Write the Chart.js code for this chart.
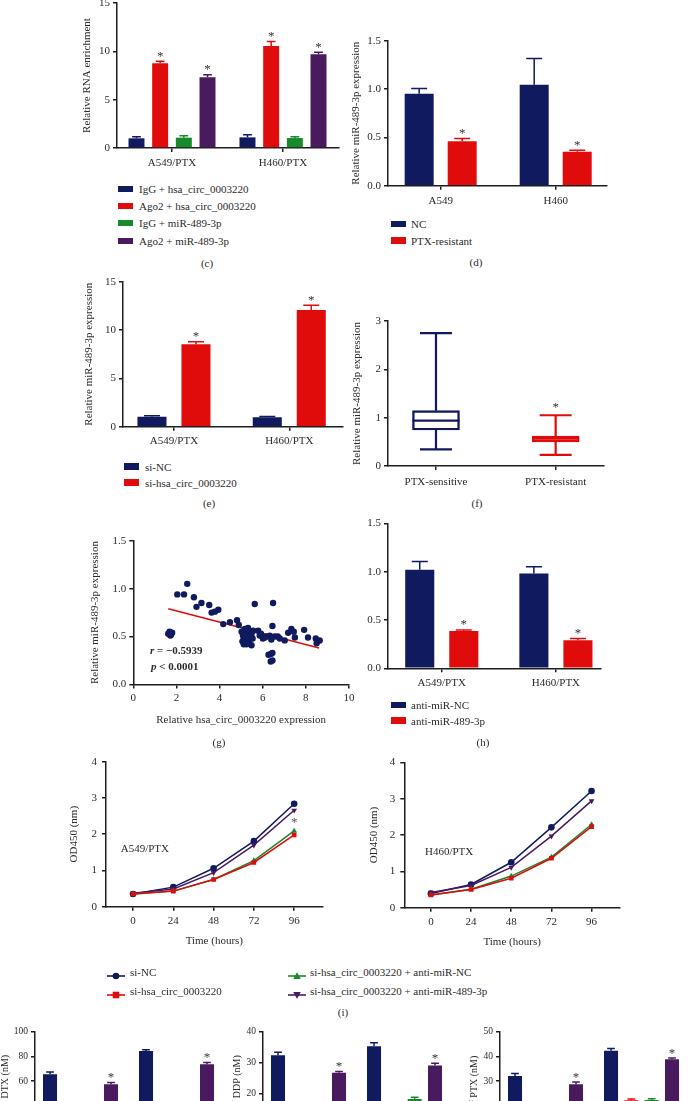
<!DOCTYPE html>
<html><head><meta charset="utf-8">
<script src="https://cdn.jsdelivr.net/npm/chart.js@4.4.1/dist/chart.umd.min.js"></script>
<style>
html,body{margin:0;padding:0;background:#fff;}
#page{position:relative;width:689px;height:1101px;overflow:hidden;background:#fff;font-family:"Liberation Serif","Times New Roman",serif;color:#2b2b2b;}
.cv{position:absolute;}
.txt{position:absolute;font-size:11px;line-height:14px;white-space:nowrap;}
.b{font-weight:bold;}
.pl{position:absolute;font-size:11px;line-height:14px;transform:translate(-50%,-50%);white-space:nowrap;}
</style></head><body><div id="page"></div>
<script>
// ---------------- DATA ----------------
// (c) RIP assay
const cCats = ['A549/PTX', 'H460/PTX'];
const cNames = ['IgG + hsa_circ_0003220', 'Ago2 + hsa_circ_0003220', 'IgG + miR-489-3p', 'Ago2 + miR-489-3p'];
const cIgGCirc = [1.0, 1.1];
const cAgoCirc = [8.76, 10.55];
const cIgGMiR = [1.07, 1.03];
const cAgoMiR = [7.31, 9.69];
const cIgGCircErr = [0.17, 0.28];
const cAgoCircErr = [0.21, 0.48];
const cIgGMiRErr = [0.2, 0.14];
const cAgoMiRErr = [0.27, 0.21];
const cYTicks = [0, 5, 10, 15];
const cYLabels = ['0', '5', '10', '15'];

// (d)
const dCats = ['A549', 'H460'];
const dNames = ['NC', 'PTX-resistant'];
const dNC = [0.95, 1.045];
const dNCErr = [0.055, 0.27];
const dRes = [0.46, 0.352];
const dResErr = [0.027, 0.015];
const dYTicks = [0, 0.5, 1.0, 1.5];
const dYLabels = ['0.0', '0.5', '1.0', '1.5'];

// (e)
const eCats = ['A549/PTX', 'H460/PTX'];
const eNames = ['si-NC', 'si-hsa_circ_0003220'];
const eSiNC = [1.03, 0.97];
const eSiNCErr = [0.1, 0.08];
const eSiCirc = [8.52, 12.07];
const eSiCircErr = [0.27, 0.5];
const eYTicks = [0, 5, 10, 15];
const eYLabels = ['0', '5', '10', '15'];

// (f) box plot
const fCats = ['PTX-sensitive', 'PTX-resistant'];
const fMin = [0.345, 0.23];
const fQ1 = [0.745, 0.5];
const fMed = [0.94, 0.565];
const fQ3 = [1.145, 0.62];
const fMax = [2.75, 1.05];
const fStars = [false, true];
const fYTicks = [0, 1, 2, 3];
const fYLabels = ['0', '1', '2', '3'];

// (g) correlation
const gX = [1.62,1.68,1.75,1.80,1.72, 2.04,2.35,2.50,2.81,2.93,3.16,3.52,3.63,3.78,3.94,
  4.17,4.48,4.81,4.89, 5.02,5.09,5.12,5.17,5.22,5.25,5.28,5.32,5.37,5.40,5.43,5.48,5.53,5.56,5.12,5.25,5.06,5.32,5.48,5.20,5.35,
  5.63,5.79,5.86,6.01,6.17,6.33,6.40,6.56, 6.48,6.45, 6.27,6.40,6.45,6.37,6.45,
  6.79,7.02,7.18,7.33,7.44,7.49,7.92,8.10,8.46,8.55,8.64,8.50, 5.92,6.10,6.70];
const gY = [0.53,0.55,0.52,0.54,0.51, 0.94,0.94,1.05,0.91,0.81,0.85,0.83,0.75,0.76,0.78,
  0.63,0.65,0.67,0.62, 0.55,0.51,0.48,0.58,0.46,0.53,0.56,0.49,0.44,0.55,0.51,0.41,0.48,0.56,0.42,0.42,0.45,0.59,0.53,0.50,0.47,
  0.84,0.56,0.51,0.48,0.50,0.51,0.47,0.50, 0.85,0.61, 0.31,0.32,0.33,0.24,0.25,
  0.48,0.46,0.54,0.58,0.55,0.49,0.57,0.49,0.48,0.45,0.46,0.43, 0.53,0.49,0.50];
const gFitX = [1.62, 8.61];
const gFitY = [0.79, 0.38];
const gXTicks = [0, 2, 4, 6, 8, 10];
const gXLabels = ['0', '2', '4', '6', '8', '10'];
const gYTicks = [0, 0.5, 1.0, 1.5];
const gYLabels = ['0.0', '0.5', '1.0', '1.5'];

// (h)
const hCats = ['A549/PTX', 'H460/PTX'];
const hNames = ['anti-miR-NC', 'anti-miR-489-3p'];
const hNC = [1.02, 0.98];
const hNCErr = [0.085, 0.07];
const hAnti = [0.385, 0.29];
const hAntiErr = [0.012, 0.018];
const hYTicks = [0, 0.5, 1.0, 1.5];
const hYLabels = ['0.0', '0.5', '1.0', '1.5'];

// (i) CCK-8
const iTime = [0, 24, 48, 72, 96];
const iNames = ['si-NC', 'si-hsa_circ_0003220', 'si-hsa_circ_0003220 + anti-miR-NC', 'si-hsa_circ_0003220 + anti-miR-489-3p'];
const iA549SiNC = [0.35, 0.54, 1.06, 1.81, 2.84];
const iA549SiCirc = [0.35, 0.43, 0.75, 1.22, 1.98];
const iA549AntiNC = [0.35, 0.43, 0.75, 1.27, 2.09];
const iA549Anti489 = [0.37, 0.49, 0.94, 1.70, 2.66];
const iH460SiNC = [0.39, 0.64, 1.25, 2.21, 3.21];
const iH460SiCirc = [0.35, 0.50, 0.81, 1.36, 2.23];
const iH460AntiNC = [0.35, 0.51, 0.87, 1.39, 2.29];
const iH460Anti489 = [0.42, 0.61, 1.11, 1.97, 2.94];
const iA549StarT = [96];
const iA549StarY = [2.38];
const iYTicks = [0, 1, 2, 3, 4];
const iYLabels = ['0', '1', '2', '3', '4'];
const iXLabels = ['0', '24', '48', '72', '96'];

// (j) IC50
const jCats = ['A549/PTX', 'H460/PTX'];
const jDTXsiNC = [65.5, 84.4], jDTXsiNCErr = [1.8, 0.9];
const jDTXsiCirc = [36, 38], jDTXsiCircErr = [1.0, 1.0];
const jDTXantiNC = [37, 39], jDTXantiNCErr = [1.0, 1.0];
const jDTXanti489 = [57.3, 73.6], jDTXanti489Err = [1.4, 1.4];
const jDDPsiNC = [32.4, 35.3], jDDPsiNCErr = [0.9, 1.1];
const jDDPsiCirc = [15, 16], jDDPsiCircErr = [0.5, 0.5];
const jDDPantiNC = [16, 18.2], jDDPantiNCErr = [0.5, 0.5];
const jDDPanti489 = [26.7, 29.0], jDDPanti489Err = [0.4, 0.8];
const jPTXsiNC = [32.0, 42.3], jPTXsiNCErr = [1.0, 0.9];
const jPTXsiCirc = [18, 22.2], jPTXsiCircErr = [0.5, 0.5];
const jPTXantiNC = [19, 22.3], jPTXantiNCErr = [0.5, 0.5];
const jPTXanti489 = [28.7, 38.8], jPTXanti489Err = [0.9, 0.5];
const jDTXTicks = [0, 20, 40, 60, 80, 100], jDTXLabels = ['0','20','40','60','80','100'];
const jDDPTicks = [0, 10, 20, 30, 40], jDDPLabels = ['0','10','20','30','40'];
const jPTXTicks = [0, 10, 20, 30, 40, 50], jPTXLabels = ['0','10','20','30','40','50'];

// ---------------- STYLE ----------------
const NAVY = '#101a5e', RED = '#e00b0b', GREEN = '#178a2c', PURPLE = '#4a1a5e';
const SERIF = '"Liberation Serif","Times New Roman",serif';
const AX = '#1e1e1e', TXT = '#2b2b2b';
Chart.defaults.font.family = SERIF;
Chart.defaults.color = TXT;
const page = document.getElementById('page');

// ---------------- HELPERS ----------------
function yAxis(o) {
  return {
    type: 'linear', min: o.min, max: o.max,
    afterBuildTicks: s => { s.ticks = o.ticks.map(v => ({ value: v })); },
    border: { display: true, color: AX, width: 1.5 },
    grid: { display: true, drawOnChartArea: false, drawTicks: true, tickLength: 4, color: AX, lineWidth: 1.5 },
    ticks: { padding: o.pad ?? 3, color: TXT, font: { family: SERIF, size: o.fs || 11 }, autoSkip: false, callback: (v, i) => o.labels[i] },
    title: o.title ? { display: true, text: o.title, color: TXT, font: { family: SERIF, size: o.tfs || 11, lineHeight: 1.2 }, padding: 0 } : { display: false }
  };
}
function xAxis(o) {
  return {
    type: 'linear', min: o.min, max: o.max, offset: false,
    afterBuildTicks: s => { s.ticks = o.ticks.map(v => ({ value: v })); },
    border: { display: true, color: AX, width: 1.5 },
    grid: { display: true, offset: false, drawOnChartArea: false, drawTicks: true, tickLength: 4, color: AX, lineWidth: 1.5 },
    ticks: { padding: o.pad ?? 5, color: TXT, font: { family: SERIF, size: o.fs || 11 }, autoSkip: false, maxRotation: 0, callback: (v, i) => o.labels[i] },
    title: o.title ? { display: true, text: o.title, color: TXT, font: { family: SERIF, size: 11, lineHeight: 1.2 }, padding: 0 } : { display: false }
  };
}
function panel(box, area, cfg) {
  const c = document.createElement('canvas');
  c.width = box.w; c.height = box.h; c.className = 'cv';
  c.style.left = box.x + 'px'; c.style.top = box.y + 'px';
  page.appendChild(c);
  const o = cfg.options;
  o.responsive = false; o.animation = false; o.devicePixelRatio = 1;
  o.layout = { padding: { left: 0, top: area.t - box.y, right: box.x + box.w - area.r, bottom: 0 } };
  o.plugins = Object.assign({ legend: { display: false }, tooltip: { enabled: false } }, o.plugins || {});
  o.scales.x.afterFit = s => { s.height = box.y + box.h - area.b; s.paddingLeft = 0; s.paddingRight = 0; };
  o.scales.y.afterFit = s => { s.width = area.l - box.x; s.paddingTop = 0; s.paddingBottom = 0; };
  return new Chart(c, cfg);
}
function barDs(label, vals, errs, color, stars, cp, bp) {
  return {
    type: 'bar', label, data: vals.map((v, i) => ({ x: i, y: v })), errs, stars,
    backgroundColor: color, borderWidth: 0, categoryPercentage: cp, barPercentage: bp
  };
}
const STARFONT = '13px ' + SERIF;
const errPlugin = {
  id: 'errbars',
  afterDatasetsDraw(chart) {
    const ctx = chart.ctx, ys = chart.scales.y;
    chart.data.datasets.forEach((ds, di) => {
      if (!ds.errs) return;
      const meta = chart.getDatasetMeta(di);
      meta.data.forEach((bar, i) => {
        const v = ds.data[i].y;
        const top = ys.getPixelForValue(v + ds.errs[i]);
        const w = bar.width * 0.55;
        ctx.save();
        ctx.strokeStyle = ds.backgroundColor; ctx.lineWidth = 1.5;
        ctx.beginPath();
        ctx.moveTo(bar.x, bar.y); ctx.lineTo(bar.x, top);
        ctx.moveTo(bar.x - w / 2, top); ctx.lineTo(bar.x + w / 2, top);
        ctx.stroke();
        if (ds.stars && ds.stars[i]) {
          ctx.fillStyle = '#333'; ctx.font = STARFONT; ctx.textAlign = 'center'; ctx.textBaseline = 'alphabetic';
          ctx.fillText('*', bar.x, top - 1.5);
        }
        ctx.restore();
      });
    });
  }
};
function legendBoxes(names, colors, bx, tx, ys, bw, bh) {
  names.forEach((n, i) => {
    const sw = document.createElement('div');
    sw.style.cssText = `position:absolute;left:${bx}px;top:${ys[i] - bh / 2}px;width:${bw}px;height:${bh}px;background:${colors[i]}`;
    page.appendChild(sw);
    const t = document.createElement('div');
    t.className = 'txt'; t.textContent = n;
    t.style.left = tx + 'px'; t.style.top = (ys[i] - 7) + 'px';
    page.appendChild(t);
  });
}
function label(text, x, y) {
  const t = document.createElement('div'); t.className = 'pl'; t.textContent = text;
  t.style.left = x + 'px'; t.style.top = y + 'px'; page.appendChild(t);
}
function freeText(html, x, y, cls) {
  const t = document.createElement('div'); t.className = 'txt ' + (cls || ''); t.innerHTML = html;
  t.style.left = x + 'px'; t.style.top = (y - 7) + 'px'; page.appendChild(t);
}

// ---------------- (c) ----------------
panel({ x: 81, y: -6, w: 264, h: 184 }, { l: 117, t: 3, r: 339, b: 148 }, {
  data: { datasets: [
    barDs(cNames[0], cIgGCirc, cIgGCircErr, NAVY, null, 0.853, 0.675),
    barDs(cNames[1], cAgoCirc, cAgoCircErr, RED, [true, true], 0.853, 0.675),
    barDs(cNames[2], cIgGMiR, cIgGMiRErr, GREEN, null, 0.853, 0.675),
    barDs(cNames[3], cAgoMiR, cAgoMiRErr, PURPLE, [true, true], 0.853, 0.675)
  ] },
  options: { scales: {
    x: xAxis({ min: -0.4955, max: 1.5045, ticks: [0, 1], labels: cCats, pad: 5 }),
    y: yAxis({ min: 0, max: 15, ticks: cYTicks, labels: cYLabels, title: 'Relative RNA enrichment' })
  } },
  plugins: [errPlugin]
});
legendBoxes(cNames, [NAVY, RED, GREEN, PURPLE], 118, 139, [189, 206, 223, 241], 15, 6.5);
label('(c)', 207, 263);

// ---------------- (d) ----------------
panel({ x: 350, y: 30, w: 270, h: 185 }, { l: 388, t: 40.7, r: 607, b: 185.7 }, {
  data: { datasets: [
    barDs(dNames[0], dNC, dNCErr, NAVY, null, 0.748, 0.674),
    barDs(dNames[1], dRes, dResErr, RED, [true, true], 0.748, 0.674)
  ] },
  options: { scales: {
    x: xAxis({ min: -0.458, max: 1.446, ticks: [0, 1], labels: dCats, pad: 5 }),
    y: yAxis({ min: 0, max: 1.5, ticks: dYTicks, labels: dYLabels, title: 'Relative miR-489-3p expression' })
  } },
  plugins: [errPlugin]
});
legendBoxes(dNames, [NAVY, RED], 391, 411, [224, 240.7], 15, 6.5);
label('(d)', 476, 262);

// ---------------- (e) ----------------
panel({ x: 83, y: 272, w: 263, h: 178 }, { l: 123, t: 281.7, r: 343, b: 426.7 }, {
  data: { datasets: [
    barDs(eNames[0], eSiNC, eSiNCErr, NAVY, null, 0.763, 0.66),
    barDs(eNames[1], eSiCirc, eSiCircErr, RED, [true, true], 0.763, 0.66)
  ] },
  options: { scales: {
    x: xAxis({ min: -0.442, max: 1.466, ticks: [0, 1], labels: eCats, pad: 4 }),
    y: yAxis({ min: 0, max: 15, ticks: eYTicks, labels: eYLabels, title: 'Relative miR-489-3p expression' })
  } },
  plugins: [errPlugin]
});
legendBoxes(eNames, [NAVY, RED], 124, 145, [466.7, 482.7], 15, 6.5);
label('(e)', 209, 503);

// ---------------- (f) ----------------
const boxPlugin = {
  id: 'boxw',
  afterDatasetsDraw(chart) {
    const ys = chart.scales.y, ctx = chart.ctx;
    const ds = chart.data.datasets[0];
    chart.getDatasetMeta(0).data.forEach((bar, i) => {
      const col = ds.borderColor[i], hw = bar.width / 2, cw = bar.width * 0.34;
      const pMed = ys.getPixelForValue(fMed[i]), pMax = ys.getPixelForValue(fMax[i]), pMin = ys.getPixelForValue(fMin[i]);
      const pQ3 = ys.getPixelForValue(fQ3[i]), pQ1 = ys.getPixelForValue(fQ1[i]);
      ctx.save(); ctx.strokeStyle = col; ctx.lineWidth = 2.2;
      ctx.beginPath();
      ctx.moveTo(bar.x - hw, pMed); ctx.lineTo(bar.x + hw, pMed);
      ctx.moveTo(bar.x, pQ3); ctx.lineTo(bar.x, pMax); ctx.moveTo(bar.x - cw, pMax); ctx.lineTo(bar.x + cw, pMax);
      ctx.moveTo(bar.x, pQ1); ctx.lineTo(bar.x, pMin); ctx.moveTo(bar.x - cw, pMin); ctx.lineTo(bar.x + cw, pMin);
      ctx.stroke();
      if (fStars[i]) {
        ctx.fillStyle = '#333'; ctx.font = STARFONT; ctx.textAlign = 'center'; ctx.textBaseline = 'alphabetic';
        ctx.fillText('*', bar.x, pMax - 4);
      }
      ctx.restore();
    });
  }
};
panel({ x: 351, y: 310, w: 269, h: 185 }, { l: 388, t: 321, r: 604, b: 466 }, {
  data: { datasets: [{
    type: 'bar', data: fCats.map((c, i) => ({ x: i, y: [fQ1[i], fQ3[i]] })),
    backgroundColor: '#fff', borderColor: [NAVY, RED], borderWidth: 2.4, borderSkipped: false, barThickness: 47
  }] },
  options: { scales: {
    x: xAxis({ min: -0.401, max: 1.404, ticks: [0, 1], labels: fCats, pad: 6 }),
    y: yAxis({ min: 0, max: 3, ticks: fYTicks, labels: fYLabels, title: 'Relative miR-489-3p expression' })
  } },
  plugins: [boxPlugin]
});
label('(f)', 477, 503);

// ---------------- (g) ----------------
panel({ x: 89, y: 530, w: 269, h: 197 }, { l: 133.3, t: 540.7, r: 349, b: 684.5 }, {
  type: 'scatter',
  data: { datasets: [
    { data: gX.map((x, i) => ({ x, y: gY[i] })), pointRadius: 3.2, pointBorderWidth: 0, backgroundColor: NAVY, borderColor: NAVY },
    { data: gFitX.map((x, i) => ({ x, y: gFitY[i] })), showLine: true, pointRadius: 0, borderColor: RED, borderWidth: 1.5 }
  ] },
  options: { scales: {
    x: xAxis({ min: 0, max: 10, ticks: gXTicks, labels: gXLabels, pad: 3, title: 'Relative hsa_circ_0003220 expression' }),
    y: yAxis({ min: 0, max: 1.5, ticks: gYTicks, labels: gYLabels, title: 'Relative miR-489-3p expression' })
  } }
});
freeText('<i>r</i> = \u22120.5939', 150, 650, 'b');
freeText('<i>p</i> &lt; 0.0001', 151, 665.5, 'b');
label('(g)', 219, 742);

// ---------------- (h) ----------------
panel({ x: 355, y: 512, w: 260, h: 183 }, { l: 388, t: 523.3, r: 601, b: 668.3 }, {
  data: { datasets: [
    barDs(hNames[0], hNC, hNCErr, NAVY, null, 0.772, 0.66),
    barDs(hNames[1], hAnti, hAntiErr, RED, [true, true], 0.772, 0.66)
  ] },
  options: { scales: {
    x: xAxis({ min: -0.471, max: 1.395, ticks: [0, 1], labels: hCats, pad: 4 }),
    y: yAxis({ min: 0, max: 1.5, ticks: hYTicks, labels: hYLabels })
  } },
  plugins: [errPlugin]
});
legendBoxes(hNames, [NAVY, RED], 391, 411, [705, 720.7], 15, 6.5);
label('(h)', 483, 742);

// ---------------- (i) ----------------
function lineDs(vals, color, style, rot) {
  return { data: iTime.map((t, i) => ({ x: t, y: vals[i] })), showLine: true, borderColor: color, backgroundColor: color,
    borderWidth: 1.5, pointStyle: style, pointRotation: rot || 0, pointRadius: 3.3, pointBorderWidth: 0 };
}
const starPlugin = {
  id: 'istar',
  afterDatasetsDraw(chart) {
    const o = chart.options.plugins.istar;
    if (!o || !o.t) return;
    const ctx = chart.ctx;
    o.t.forEach((t, i) => {
      ctx.save(); ctx.fillStyle = '#555'; ctx.font = STARFONT; ctx.textAlign = 'center'; ctx.textBaseline = 'middle';
      ctx.fillText('*', chart.scales.x.getPixelForValue(t), chart.scales.y.getPixelForValue(o.y[i]) + 2);
      ctx.restore();
    });
  }
};
panel({ x: 68, y: 752, w: 267, h: 196 }, { l: 106, t: 761.7, r: 322.7, b: 906.7 }, {
  type: 'scatter',
  data: { datasets: [
    lineDs(iA549SiCirc, RED, 'rect'),
    lineDs(iA549AntiNC, GREEN, 'triangle'),
    lineDs(iA549Anti489, PURPLE, 'triangle', 180),
    lineDs(iA549SiNC, NAVY, 'circle')
  ] },
  options: { plugins: { istar: { t: iA549StarT, y: iA549StarY } }, scales: {
    x: xAxis({ min: -16.1, max: 113, ticks: iTime, labels: iXLabels, pad: 3.5, title: 'Time (hours)' }),
    y: yAxis({ min: 0, max: 4, ticks: iYTicks, labels: iYLabels, title: 'OD450 (nm)', pad: 5 })
  } },
  plugins: [starPlugin]
});
freeText('A549/PTX', 120.7, 848.3);
panel({ x: 368, y: 752, w: 264, h: 197 }, { l: 404.3, t: 762.3, r: 620, b: 907.7 }, {
  type: 'scatter',
  data: { datasets: [
    lineDs(iH460SiCirc, RED, 'rect'),
    lineDs(iH460AntiNC, GREEN, 'triangle'),
    lineDs(iH460Anti489, PURPLE, 'triangle', 180),
    lineDs(iH460SiNC, NAVY, 'circle')
  ] },
  options: { scales: {
    x: xAxis({ min: -15.9, max: 113, ticks: iTime, labels: iXLabels, pad: 3.5, title: 'Time (hours)' }),
    y: yAxis({ min: 0, max: 4, ticks: iYTicks, labels: iYLabels, title: 'OD450 (nm)', pad: 5 })
  } }
});
freeText('H460/PTX', 425, 851);
// legend (i)
const iColors = [NAVY, RED, GREEN, PURPLE];
const iShapes = ['circle', 'rect', 'tri', 'tridown'];
const iLegPos = [[107, 130, 972.3], [107, 130, 991], [288, 310, 972.3], [288, 310, 991]];
iNames.forEach((n, i) => {
  const [mx, tx, y] = iLegPos[i], col = iColors[i];
  let m = '';
  if (iShapes[i] === 'circle') m = `<circle cx="9" cy="5" r="3.3" fill="${col}"/>`;
  if (iShapes[i] === 'rect') m = `<rect x="5.7" y="1.7" width="6.6" height="6.6" fill="${col}"/>`;
  if (iShapes[i] === 'tri') m = `<polygon points="9,1.3 12.8,8 5.2,8" fill="${col}"/>`;
  if (iShapes[i] === 'tridown') m = `<polygon points="9,8.7 12.8,2 5.2,2" fill="${col}"/>`;
  const d = document.createElement('div');
  d.style.cssText = `position:absolute;left:${mx}px;top:${y - 5}px;width:18px;height:10px;`;
  d.innerHTML = `<svg width="18" height="10"><line x1="0" y1="5" x2="18" y2="5" stroke="${col}" stroke-width="1.6"/>${m}</svg>`;
  page.appendChild(d);
  freeText(n, tx, y);
});
label('(i)', 343, 1012);

// ---------------- (j) ----------------
function jPanel(box, area, sets, ticks, labels, max, title) {
  const cp = 0.847, bp = 0.69;
  panel(box, area, {
    data: { datasets: [
      barDs('si-NC', sets[0], sets[1], NAVY, null, cp, bp),
      barDs('si-hsa_circ_0003220', sets[2], sets[3], RED, null, cp, bp),
      barDs('si-hsa_circ_0003220 + anti-miR-NC', sets[4], sets[5], GREEN, null, cp, bp),
      barDs('si-hsa_circ_0003220 + anti-miR-489-3p', sets[6], sets[7], PURPLE, [true, true], cp, bp)
    ] },
    options: { scales: {
      x: xAxis({ min: -0.474, max: 1.505, ticks: [0, 1], labels: jCats, pad: 4, fs: 10 }),
      y: yAxis({ min: 0, max, ticks, labels, title, fs: 9.5, tfs: 10, pad: 3 })
    } },
    plugins: [errPlugin]
  });
}
jPanel({ x: -1, y: 1022, w: 241, h: 163 }, { l: 35, t: 1031.7, r: 225, b: 1155 },
  [jDTXsiNC, jDTXsiNCErr, jDTXsiCirc, jDTXsiCircErr, jDTXantiNC, jDTXantiNCErr, jDTXanti489, jDTXanti489Err],
  jDTXTicks, jDTXLabels, 100, 'IC50 of DTX (nM)');
jPanel({ x: 231, y: 1022, w: 237, h: 163 }, { l: 263, t: 1031.7, r: 453, b: 1155 },
  [jDDPsiNC, jDDPsiNCErr, jDDPsiCirc, jDDPsiCircErr, jDDPantiNC, jDDPantiNCErr, jDDPanti489, jDDPanti489Err],
  jDDPTicks, jDDPLabels, 40, 'IC50 of DDP (nM)');
jPanel({ x: 468, y: 1022, w: 232, h: 163 }, { l: 500, t: 1031.7, r: 690, b: 1155 },
  [jPTXsiNC, jPTXsiNCErr, jPTXsiCirc, jPTXsiCircErr, jPTXantiNC, jPTXantiNCErr, jPTXanti489, jPTXanti489Err],
  jPTXTicks, jPTXLabels, 50, 'IC50 of PTX (nM)');
</script>
</body></html>
